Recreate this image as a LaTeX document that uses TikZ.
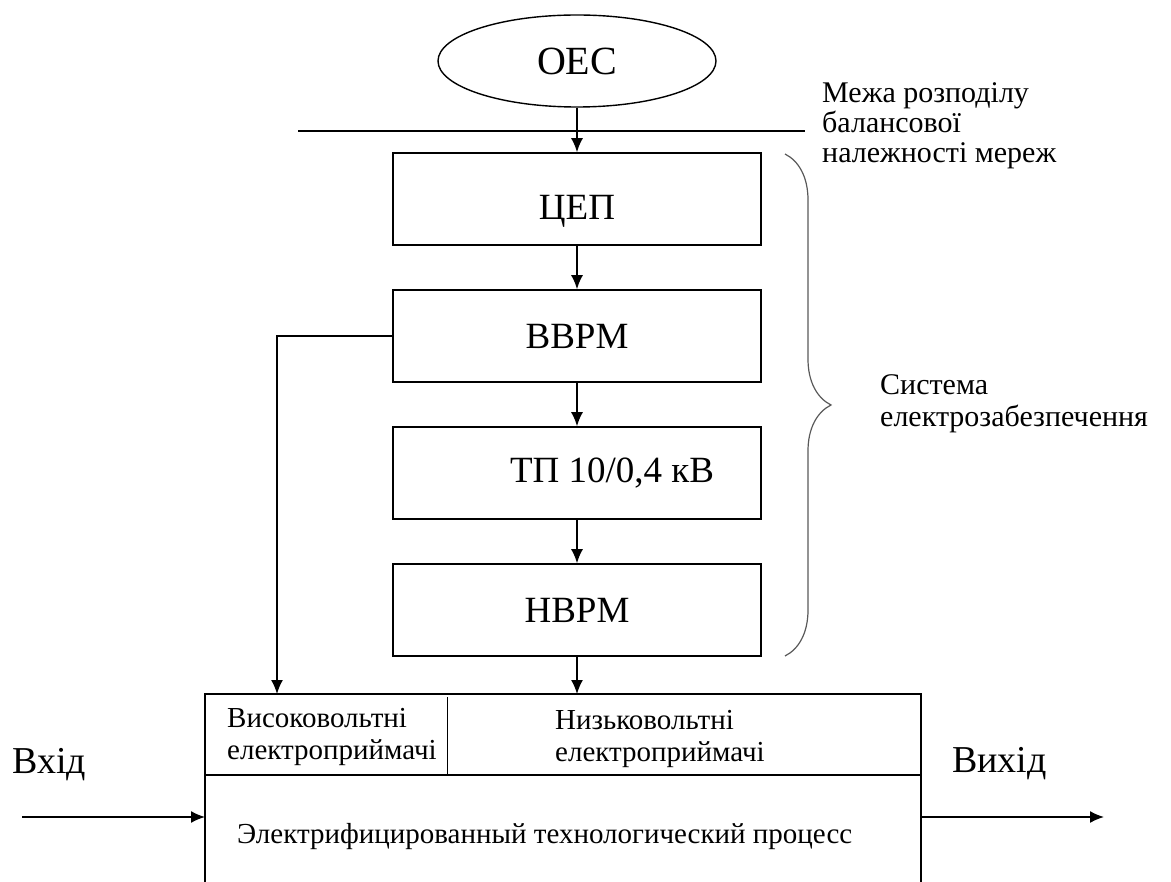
\documentclass[tikz,border=0pt]{standalone}
\usepackage{fontspec}
\setmainfont{Liberation Serif}
\usetikzlibrary{shapes.geometric,arrows.meta,decorations.pathreplacing,positioning}
\tikzset{%
  block/.style={draw, line width=1.6pt, minimum width=368pt, minimum height=92pt,
    inner sep=0pt, font=\fontsize{37}{44}\selectfont},
  flow/.style={-{Latex[length=14pt,width=12pt]}, line width=1.6pt},
  plain line/.style={line width=1.6pt},
  note/.style={inner sep=0pt, align=left, font=\fontsize{30}{30}\selectfont},
  inner note/.style={inner sep=0pt, align=left, font=\fontsize{29}{32}\selectfont},
  big note/.style={inner sep=0pt, font=\fontsize{38}{44}\selectfont}
}

\begin{document}
\begin{tikzpicture}[x=1pt,y=-1pt]
    \useasboundingbox (0,0) rectangle (1171,882);
    % supply chain
    \node[draw, ellipse, line width=1.4pt, minimum width=278pt, minimum height=92pt,
      inner sep=0pt, font=\fontsize{40}{44}\selectfont] (oes) at (577,61) {ОЕС};
    \node[block] (cep) at (577,199) {\raisebox{-21pt}[0pt][0pt]{ЦЕП}};
    \node[block] (vvrm) at (577,336) {ВВРМ};
    \node[block] (tp) at (577,473) {\hspace*{70pt}ТП 10/0,4 кВ};
    \node[block] (nvrm) at (577,610) {НВРМ};

    \coordinate (bound west) at (298,131);
    \coordinate (bound east) at (805,131);
    \draw[plain line] (bound west) -- (bound east);

    \draw[flow] (oes.south) -- (cep.north);
    \draw[flow] (cep.south) -- (vvrm.north);
    \draw[flow] (vvrm.south) -- (tp.north);
    \draw[flow] (tp.south) -- (nvrm.north);

    % process box, open at the bottom
    \coordinate (proc sw) at (205,882);
    \coordinate (proc nw) at (205,694);
    \coordinate (proc ne) at (921,694);
    \coordinate (proc se) at (921,882);
    \coordinate (split w) at (205,775);
    \coordinate (split e) at (921,775);
    \coordinate (divider top) at (447,697);
    \coordinate (divider bottom) at (447,775);
    \draw[plain line] (proc sw) -- (proc nw) -- (proc ne) -- (proc se);
    \draw[plain line] (split w) -- (split e);
    \draw[line width=1pt] (divider top) -- (divider bottom);

    \coordinate (hv in) at (277,694);
    \draw[flow] (vvrm.west) -- (hv in |- vvrm.west) -- (hv in);
    \draw[flow] (nvrm.south) -- (nvrm.south |- proc ne);

    \coordinate (in start) at (22,817);
    \coordinate (in end) at (205,817);
    \coordinate (out start) at (921,817);
    \coordinate (out end) at (1104,817);
    \draw[flow] (in start) -- (in end);
    \draw[flow] (out start) -- (out end);

    % brace and side labels
    \coordinate (brace top) at (785,154);
    \coordinate (brace bottom) at (785,656);
    \draw[line width=1.2pt, gray!70!black, decorate, decoration={brace, amplitude=46pt}]
      (brace top) -- (brace bottom);

    \node[note, anchor=base west] (boundary) at (822,163)
      {Межа розподілу\\балансової\\належності мереж};
    \node[note, anchor=base west] (system) at (880,427)
      {Система\\[2pt]електрозабезпечення};

    \node[big note, anchor=base west] (input) at (12,773) {Вхід};
    \node[big note, anchor=base west] (output) at (952,772) {Вихід};

    \node[inner note, anchor=base west] (hv) at (227,759) {Високовольтні\\електроприймачі};
    \node[inner note, anchor=base west] (lv) at (555,761) {Низьковольтні\\електроприймачі};
    \node[inner note, anchor=base west] (process) at (237,843)
      {Электрифицированный технологический процесс};
\end{tikzpicture}
\end{document}
